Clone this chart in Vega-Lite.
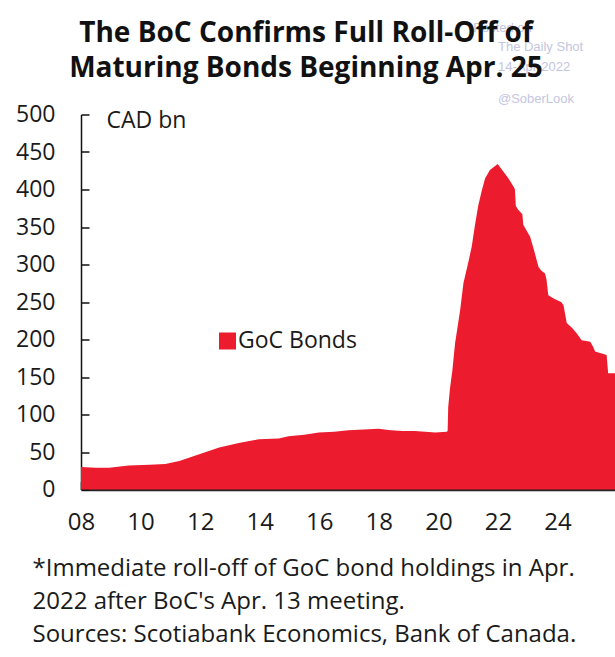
{
  "$schema": "https://vega.github.io/schema/vega-lite/v6.json",
  "width": 534,
  "height": 375,
  "autosize": {"type": "none"},
  "padding": {"left": 81, "top": 114.5, "right": 0, "bottom": 167.5},
  "background": "white",
  "title": {
    "text": ["The BoC Confirms Full Roll-Off of", "Maturing Bonds Beginning Apr. 25"],
    "font": "Open Sans",
    "fontSize": 28,
    "fontWeight": "bold",
    "color": "#111111",
    "anchor": "middle",
    "dx": -42,
    "offset": -61,
    "lineHeight": 35
  },
  "config": {"view": {"stroke": null}, "font": "Open Sans"},
  "resolve": {"axis": {"x": "independent", "y": "independent"}},
  "layer": [
    {
      "data": {"values": [
        {"year": 2008.0, "value": 30}, {"year": 2008.5, "value": 29}, {"year": 2008.95, "value": 29},
        {"year": 2009.6, "value": 32}, {"year": 2010.3, "value": 33}, {"year": 2010.83, "value": 34},
        {"year": 2011.3, "value": 38}, {"year": 2011.97, "value": 47}, {"year": 2012.64, "value": 56},
        {"year": 2013.3, "value": 62}, {"year": 2013.97, "value": 67}, {"year": 2014.64, "value": 68},
        {"year": 2014.97, "value": 71}, {"year": 2015.5, "value": 73}, {"year": 2015.98, "value": 76},
        {"year": 2016.5, "value": 77}, {"year": 2016.98, "value": 79}, {"year": 2017.5, "value": 80},
        {"year": 2017.99, "value": 81}, {"year": 2018.4, "value": 79}, {"year": 2018.8, "value": 78},
        {"year": 2019.2, "value": 78}, {"year": 2019.56, "value": 77}, {"year": 2019.9, "value": 76},
        {"year": 2020.28, "value": 77}, {"year": 2020.31, "value": 78}, {"year": 2020.33, "value": 110},
        {"year": 2020.39, "value": 135}, {"year": 2020.47, "value": 159}, {"year": 2020.56, "value": 195},
        {"year": 2020.73, "value": 239}, {"year": 2020.84, "value": 275}, {"year": 2021.01, "value": 304},
        {"year": 2021.12, "value": 324}, {"year": 2021.23, "value": 353}, {"year": 2021.34, "value": 379},
        {"year": 2021.46, "value": 399}, {"year": 2021.57, "value": 415}, {"year": 2021.73, "value": 426},
        {"year": 2021.99, "value": 434}, {"year": 2022.18, "value": 424}, {"year": 2022.35, "value": 415},
        {"year": 2022.55, "value": 402}, {"year": 2022.57, "value": 400}, {"year": 2022.6, "value": 378},
        {"year": 2022.68, "value": 373}, {"year": 2022.82, "value": 367}, {"year": 2022.85, "value": 353},
        {"year": 2023.08, "value": 337}, {"year": 2023.19, "value": 322}, {"year": 2023.36, "value": 297},
        {"year": 2023.45, "value": 292}, {"year": 2023.58, "value": 288}, {"year": 2023.63, "value": 280},
        {"year": 2023.69, "value": 259}, {"year": 2023.9, "value": 254}, {"year": 2024.12, "value": 250},
        {"year": 2024.2, "value": 246}, {"year": 2024.31, "value": 222}, {"year": 2024.5, "value": 215},
        {"year": 2024.65, "value": 208}, {"year": 2024.81, "value": 199}, {"year": 2025.1, "value": 197},
        {"year": 2025.2, "value": 190}, {"year": 2025.26, "value": 184}, {"year": 2025.6, "value": 180},
        {"year": 2025.65, "value": 179}, {"year": 2025.7, "value": 155}, {"year": 2025.93, "value": 155}
      ]},
      "mark": {"type": "area", "color": "#ec1c2e", "interpolate": "linear"},
      "encoding": {
        "x": {
          "field": "year", "type": "quantitative",
          "scale": {"domain": [2008, 2025.93], "nice": false, "zero": false},
          "axis": {
            "values": [2008, 2010, 2012, 2014, 2016, 2018, 2020, 2022, 2024],
            "labelExpr": "slice(format(datum.value, 'd'), 2)",
            "grid": false,
            "labelFontSize": 24, "labelColor": "#1a1a1a", "labelFont": "Open Sans",
            "labelPadding": 29, "labelFlush": false, "labelOverlap": false,
            "tickSize": -8, "tickColor": "#111111", "tickWidth": 1.5,
            "domainColor": "#222222", "domainWidth": 2.5,
            "title": ["*Immediate roll-off of GoC bond holdings in Apr.", "2022 after BoC's Apr. 13 meeting.", "Sources: Scotiabank Economics, Bank of Canada."],
            "titleFont": "Open Sans", "titleFontSize": 24, "titleFontWeight": "normal", "titleColor": "#1a1a1a",
            "titleAlign": "left", "titleAnchor": "start", "titleBaseline": "top",
            "titleX": -49, "titleY": 67, "titleLineHeight": 33
          }
        },
        "y": {
          "field": "value", "type": "quantitative",
          "scale": {"domain": [0, 500], "nice": false},
          "axis": {
            "values": [0, 50, 100, 150, 200, 250, 300, 350, 400, 450, 500],
            "grid": false,
            "labelFontSize": 23, "labelColor": "#1a1a1a", "labelFont": "Open Sans",
            "labelPadding": 34, "labelFlush": false, "labelOverlap": false, "labelSeparation": 0,
            "tickSize": -8, "tickColor": "#111111", "tickWidth": 1.5,
            "domainColor": "#111111", "domainWidth": 1.5,
            "title": "CAD bn", "titleAngle": 0, "titleAlign": "left", "titleBaseline": "middle",
            "titleX": 25, "titleY": 6, "titleFont": "Open Sans", "titleFontSize": 23,
            "titleFontWeight": "normal", "titleColor": "#1a1a1a"
          }
        },
        "color": {
          "datum": "GoC Bonds",
          "scale": {"range": ["#ec1c2e"]},
          "legend": {
            "title": null, "orient": "none", "legendX": 135, "legendY": 215,
            "symbolType": "square", "symbolSize": 289, "symbolStrokeWidth": 0,
            "labelFontSize": 23, "labelFont": "Open Sans", "labelColor": "#1a1a1a", "labelOffset": -1
          }
        }
      }
    },
    {
      "data": {"values": [{"line": "Posted on"}]},
      "mark": {"type": "text", "font": "Liberation Sans", "fontSize": 13, "color": "#c3c6df", "align": "left", "baseline": "middle"},
      "encoding": {
        "x": {"datum": 2021.17, "type": "quantitative", "axis": null},
        "y": {"datum": 615, "type": "quantitative", "axis": null},
        "text": {"field": "line"}
      }
    },
    {
      "data": {"values": [{"line": "The Daily Shot"}]},
      "mark": {"type": "text", "font": "Liberation Sans", "fontSize": 13, "color": "#c3c6df", "align": "left", "baseline": "middle"},
      "encoding": {
        "x": {"datum": 2022.0, "type": "quantitative", "axis": null},
        "y": {"datum": 590, "type": "quantitative", "axis": null},
        "text": {"field": "line"}
      }
    },
    {
      "data": {"values": [{"line": "14-Apr-2022"}]},
      "mark": {"type": "text", "font": "Liberation Sans", "fontSize": 13, "color": "#c3c6df", "align": "left", "baseline": "middle"},
      "encoding": {
        "x": {"datum": 2022.0, "type": "quantitative", "axis": null},
        "y": {"datum": 563, "type": "quantitative", "axis": null},
        "text": {"field": "line"}
      }
    },
    {
      "data": {"values": [{"line": "@SoberLook"}]},
      "mark": {"type": "text", "font": "Liberation Sans", "fontSize": 13, "color": "#c3c6df", "align": "left", "baseline": "middle"},
      "encoding": {
        "x": {"datum": 2022.0, "type": "quantitative", "axis": null},
        "y": {"datum": 521, "type": "quantitative", "axis": null},
        "text": {"field": "line"}
      }
    }
  ]
}
